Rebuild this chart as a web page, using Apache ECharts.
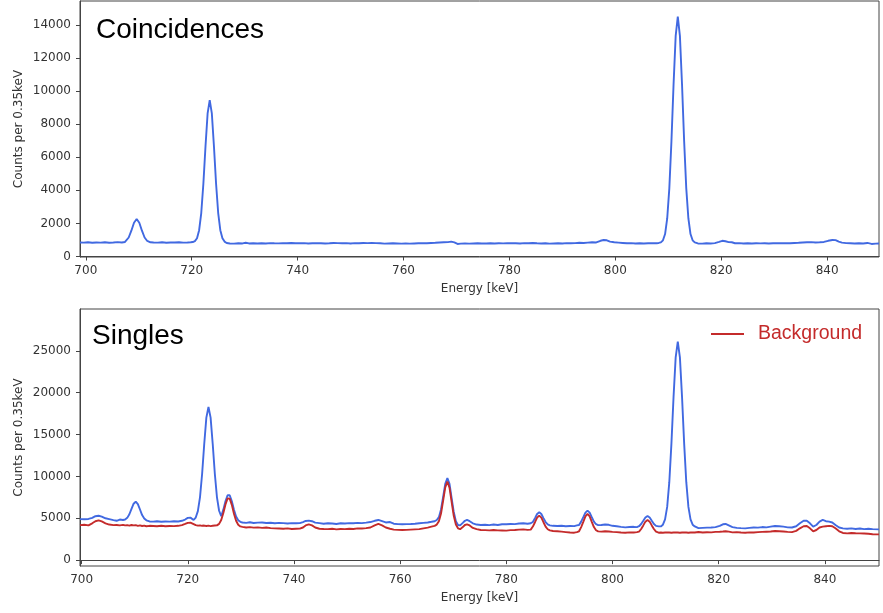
<!DOCTYPE html>
<html>
<head>
<meta charset="utf-8">
<script src="https://cdn.jsdelivr.net/npm/echarts@6/dist/echarts.min.js"></script>
<style>html,body{margin:0;padding:0;background:#fff}#c{width:883px;height:613px}</style>
</head>
<body>
<div id="c"></div>
<script>
// ---- Coincidences panel ----
const topEnergy = [698.9,699.6,700.4,701.2,702.0,702.8,703.6,704.4,705.2,706.0,706.8,707.4,707.6,708.1,708.6,709.1,709.6,710.1,710.6,711.1,711.6,712.2,712.8,713.6,714.4,715.2,716.0,716.8,717.6,718.4,719.2,719.8,
720.2,720.6,721.0,721.4,721.8,722.2,722.6,723.0,723.4,723.8,724.2,724.6,725.0,725.4,725.8,726.2,726.6,
727.2,728.0,728.8,729.6,730.2,730.8,731.6,732.4,733.2,734.0,734.8,735.6,736.4,737.2,738.0,738.8,739.6,740.4,741.2,742.0,742.8,743.6,744.4,745.2,746.0,746.8,747.6,748.4,749.2,750.0,750.8,751.6,752.4,753.2,754.0,754.8,755.6,756.4,757.2,758.0,758.8,759.6,760.4,761.2,762.0,762.8,763.6,764.4,765.2,766.0,766.8,767.6,768.4,769.0,769.6,770.2,770.8,771.6,772.4,773.2,774.0,774.8,775.6,776.4,777.2,778.0,778.8,779.6,780.4,781.2,782.0,782.8,783.6,784.4,785.2,786.0,786.8,787.6,788.4,789.2,790.0,790.8,791.6,792.4,793.2,794.0,794.8,795.6,796.4,797.2,797.8,798.4,799.0,799.8,800.6,801.4,802.2,803.0,803.8,804.6,805.4,806.2,807.0,807.8,808.2,
808.6,809.0,809.4,809.8,810.2,810.6,811.0,811.4,811.8,812.2,812.6,813.0,813.4,813.8,814.2,814.6,815.0,
815.6,816.4,817.2,818.0,818.8,819.6,820.2,820.8,821.4,822.0,822.6,823.4,824.2,825.0,825.8,826.6,827.4,828.2,829.0,829.8,830.6,831.4,832.2,833.0,833.8,834.6,835.4,836.2,837.0,837.8,838.6,839.4,840.2,841.0,841.6,842.2,842.8,843.6,844.4,845.2,846.0,846.8,847.6,848.4,849.2,849.8];
const topCounts = [850,840,860,830,850,840,860,835,850,870,850,880,940,1150,1560,2045,2270,2045,1560,1150,940,860,850,840,860,835,850,845,860,840,850,860,
875,930,1105,1590,2630,4400,6650,8650,9460,8650,6650,4400,2630,1590,1105,900,820,
790,780,800,790,830,790,800,785,800,790,810,800,795,810,800,820,805,800,810,790,800,810,800,790,800,820,810,800,810,790,810,800,820,810,820,810,800,780,790,800,790,780,790,780,790,800,810,800,820,830,850,860,870,900,850,760,780,790,780,790,800,785,790,800,790,800,795,800,805,800,790,810,800,820,800,790,800,780,790,800,790,810,800,810,830,820,840,860,850,950,1000,980,900,860,840,820,800,810,790,805,790,800,810,805,820,
850,980,1360,2300,4120,6970,10400,13340,14500,13340,10400,6970,4120,2300,1360,980,850,
790,780,800,790,810,880,950,920,870,860,800,810,790,800,790,800,795,800,790,800,805,800,810,800,820,830,850,860,870,850,860,880,950,1000,990,900,840,810,800,790,800,790,820,760,780,790];

// ---- Singles panel ----
const botEnergy = [699.7,700.5,701.3,702.0,702.6,703.2,703.8,704.5,705.2,706.0,706.6,707.2,707.8,708.2,708.6,709.0,709.4,709.8,710.2,710.6,711.0,711.4,711.8,712.2,712.8,713.5,714.2,715.0,715.8,716.6,717.4,718.2,718.9,719.5,720.0,720.5,
721.1,721.5,721.9,722.3,722.7,723.1,723.5,723.9,724.3,724.7,725.1,725.5,725.9,726.3,726.7,727.1,727.5,727.7,727.9,728.3,728.7,729.1,729.5,729.9,730.3,
731.0,731.7,732.4,733.2,734.0,734.8,735.6,736.4,737.2,738.0,738.8,739.6,740.4,741.1,741.7,742.2,742.8,743.4,744.0,744.8,745.6,746.4,747.2,748.0,748.8,749.6,750.4,751.2,752.0,752.8,753.6,754.4,755.2,755.9,756.6,757.3,758.1,758.8,759.6,760.4,761.2,762.0,762.8,763.6,764.4,765.2,765.9,766.5,
766.9,767.3,767.7,768.1,768.5,768.9,769.3,769.7,770.1,770.5,770.9,771.3,771.8,772.2,772.6,773.1,773.7,774.4,775.2,776.0,776.8,777.6,778.4,779.2,780.0,780.8,781.6,782.4,783.2,784.0,
784.6,785.0,785.4,785.8,786.2,786.6,787.0,787.4,787.8,788.2,788.8,789.6,790.4,791.2,792.0,792.8,793.3,
793.7,794.1,794.5,794.9,795.3,795.7,796.1,796.5,796.9,797.3,797.9,798.6,799.3,800.0,800.8,801.6,802.4,803.2,804.0,804.6,
805.0,805.4,805.8,806.2,806.6,807.0,807.4,807.8,808.2,808.7,
809.1,809.5,809.9,810.3,810.7,811.1,811.5,811.9,812.3,812.7,813.1,813.5,813.9,814.3,814.7,815.1,815.5,
816.2,817.0,817.8,818.6,819.4,820.2,820.8,821.3,821.9,822.6,823.4,824.2,825.0,825.8,826.6,827.4,828.2,829.0,829.8,830.6,831.4,832.2,833.0,833.8,834.6,835.3,836.0,836.6,837.2,837.8,838.4,839.0,839.6,840.2,840.8,841.4,842.0,842.7,843.4,844.2,845.0,845.8,846.6,847.4,848.2,849.0,850.2];
const botSingles = [4900,4880,4920,5050,5250,5300,5200,5000,4900,4780,4700,4850,4800,4850,5050,5480,6120,6740,7000,6700,6050,5380,4980,4760,4620,4600,4650,4580,4620,4600,4650,4620,4700,4850,5050,5080,
4800,5090,5850,7500,10290,13870,17020,18300,17020,13870,10290,7500,5900,5250,6030,7030,7750,7880,7750,7030,6030,5220,4770,4580,4500,
4450,4520,4430,4480,4500,4440,4470,4400,4450,4420,4380,4420,4400,4420,4550,4680,4720,4650,4480,4420,4350,4400,4380,4320,4400,4380,4420,4400,4450,4420,4480,4550,4700,4800,4650,4500,4550,4350,4300,4280,4300,4320,4350,4400,4450,4500,4580,4650,
4800,5135,6050,7540,9110,9800,9110,7400,5750,4650,4200,4150,4450,4700,4800,4650,4400,4250,4200,4220,4180,4250,4200,4280,4280,4320,4300,4380,4400,4350,
4400,4550,5020,5510,5720,5510,5020,4550,4270,4150,4100,4080,4100,4050,4080,4060,4150,
4200,4600,5130,5680,5920,5680,5130,4600,4290,4180,4200,4250,4220,4100,4050,3980,3920,3950,3980,3950,
4050,4320,4700,5100,5280,5100,4700,4320,4090,4030,
4030,4240,4860,6360,9310,13920,19480,24220,26100,24220,19480,13920,9310,6360,4860,4240,4030,
3820,3850,3880,3900,3950,4100,4280,4320,4150,3950,3850,3820,3800,3850,3900,3880,3950,3920,4000,4080,4050,4000,3920,3900,4050,4400,4700,4700,4400,4000,4200,4600,4800,4650,4600,4500,4200,3900,3800,3750,3800,3720,3780,3700,3750,3700,3680];
const botBackground = [4180,4220,4150,4400,4650,4750,4620,4400,4250,4180,4200,4150,4220,4150,4180,4120,4200,4150,4180,4100,4150,4080,4120,4050,4100,4080,4050,4100,4050,4080,4060,4100,4180,4320,4450,4480,
4300,4180,4120,4150,4100,4130,4080,4120,4070,4100,4130,4150,4330,4800,5630,6650,7380,7450,7350,6600,5550,4700,4230,4030,3970,
3900,3950,3880,3920,3860,3900,3820,3800,3780,3750,3790,3720,3750,3760,3900,4150,4280,4150,3900,3750,3720,3700,3750,3680,3720,3700,3750,3720,3800,3780,3820,3900,4150,4320,4150,3900,3750,3650,3620,3600,3620,3650,3680,3700,3800,3880,4000,4100,
4250,4650,5570,7100,8700,9400,8650,6950,5300,4250,3800,3700,3950,4200,4280,4150,3850,3700,3600,3580,3560,3600,3550,3540,3520,3580,3600,3650,3680,3620,
3650,4010,4530,5080,5320,5080,4530,4010,3690,3550,3480,3450,3400,3350,3300,3280,3350,
3450,3950,4580,5230,5520,5230,4580,3950,3570,3430,3400,3450,3420,3380,3350,3300,3280,3320,3300,3350,
3400,3720,4150,4600,4800,4600,4150,3720,3400,3280,
3300,3280,3300,3320,3300,3280,3300,3320,3300,3280,3300,3320,3300,3280,3300,3320,3300,
3360,3300,3340,3320,3380,3400,3420,3450,3400,3320,3350,3300,3280,3320,3300,3350,3380,3400,3420,3480,3450,3420,3380,3350,3500,3800,4050,4080,3800,3450,3600,3900,4000,4050,4100,4050,3800,3450,3250,3200,3250,3220,3200,3180,3150,3100,3080];

const xTicks = [700,720,740,760,780,800,820,840];
const topYTicks = [0,2000,4000,6000,8000,10000,12000,14000];
const botYTicks = [0,5000,10000,15000,20000,25000];

const BLUE = '#4169e1';
const RED = '#c42b2b';
const AX = '#444';
const FONT = 'DejaVu Sans';

function zip(a, b) { return a.map((v, i) => [v, b[i]]); }
const plain = v => String(Math.round(v));

function xAxisCfg(grid, min, max) {
  return {
    type: 'value', gridIndex: grid, min: min, max: max,
    name: 'Energy [keV]', nameLocation: 'middle', nameGap: 26, nameMoveOverlap: false,
    nameTextStyle: { fontFamily: FONT, fontSize: 12, color: '#333' },
    axisLine: { show: true, lineStyle: { color: AX, width: 1 } },
    axisTick: { show: true, length: 4, lineStyle: { color: AX }, customValues: xTicks },
    axisLabel: { fontFamily: FONT, fontSize: 12, color: '#333', margin: 8, customValues: xTicks, formatter: plain },
    splitLine: { show: false }
  };
}
function yAxisCfg(grid, min, max, ticks) {
  return {
    type: 'value', gridIndex: grid, min: min, max: max,
    name: 'Counts per 0.35keV', nameLocation: 'middle', nameGap: 55, nameRotate: 90, nameMoveOverlap: false,
    nameTextStyle: { fontFamily: FONT, fontSize: 12, color: '#333' },
    axisLine: { show: true, lineStyle: { color: AX, width: 1 } },
    axisTick: { show: true, length: 4, lineStyle: { color: AX }, customValues: ticks },
    axisLabel: { fontFamily: FONT, fontSize: 12, color: '#333', margin: 9, customValues: ticks, formatter: plain },
    splitLine: { show: false }
  };
}

const chart = echarts.init(document.getElementById('c'), null, { renderer: 'canvas' });
chart.setOption({
  animation: false,
  backgroundColor: '#fff',
  grid: [
    { left: 80, top: 1, width: 799, height: 256, show: true, borderColor: AX, borderWidth: 1, backgroundColor: 'transparent' },
    { left: 80, top: 309, width: 799, height: 257, show: true, borderColor: AX, borderWidth: 1, backgroundColor: 'transparent' }
  ],
  xAxis: [xAxisCfg(0, 698.9, 849.8), xAxisCfg(1, 699.7, 850.2)],
  yAxis: [yAxisCfg(0, -30, 15450, topYTicks), yAxisCfg(1, -700, 30000, botYTicks)],
  title: [
    { text: 'Coincidences', left: 91, top: 11, textStyle: { fontFamily: 'Liberation Sans', fontSize: 28, fontWeight: 'normal', color: '#000' } },
    { text: 'Singles', left: 87, top: 317, textStyle: { fontFamily: 'Liberation Sans', fontSize: 28, fontWeight: 'normal', color: '#000' } }
  ],
  legend: {
    data: ['Background'], left: 711, top: 324, padding: 0,
    icon: 'rect', itemWidth: 33, itemHeight: 2,
    textStyle: { fontFamily: 'Liberation Sans', fontSize: 19.5, color: RED, padding: [0, 0, 0, 9] }
  },
  series: [
    { name: 'Coincidences', type: 'line', xAxisIndex: 0, yAxisIndex: 0, data: zip(topEnergy, topCounts),
      showSymbol: false, lineStyle: { color: BLUE, width: 1.9 }, itemStyle: { color: BLUE } },
    { name: 'Singles', type: 'line', xAxisIndex: 1, yAxisIndex: 1, data: zip(botEnergy, botSingles),
      showSymbol: false, lineStyle: { color: BLUE, width: 1.9 }, itemStyle: { color: BLUE } },
    { name: 'Background', type: 'line', xAxisIndex: 1, yAxisIndex: 1, data: zip(botEnergy, botBackground),
      showSymbol: false, lineStyle: { color: RED, width: 1.9 }, itemStyle: { color: RED } }
  ]
});
</script>
</body>
</html>
